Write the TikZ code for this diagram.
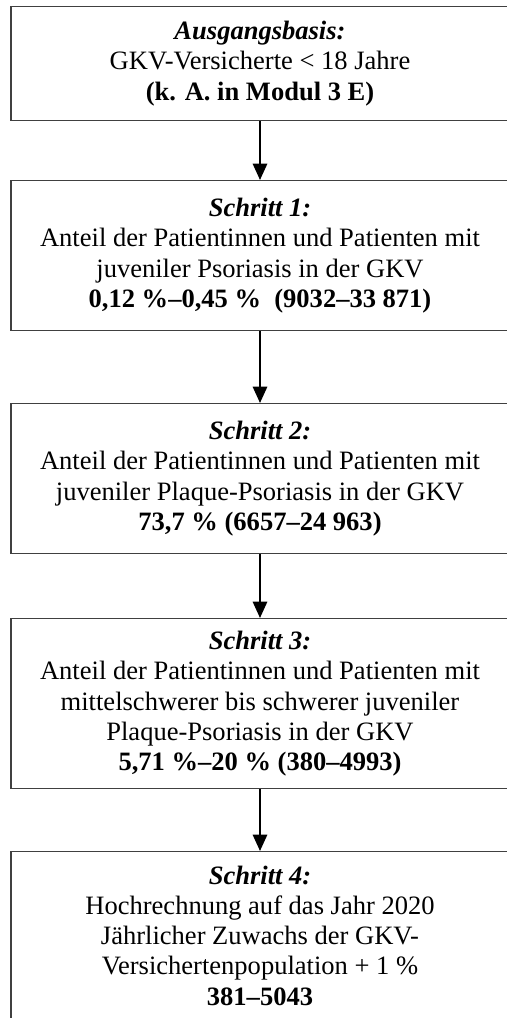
\documentclass[tikz,border=0pt]{standalone}
\usepackage{fontspec}
\setmainfont{Liberation Serif}
\usetikzlibrary{arrows.meta}

\begin{document}
\begin{tikzpicture}[x=0.49pt, y=-0.49pt]

	\tikzset{mystepbox/.style={draw=black!75, line width=0.6pt, minimum width=244pt, inner sep=0pt, anchor=north, align=center, font=\fontsize{13}{14.8}\selectfont}}
	\tikzset{myblackarrow/.style={-{Triangle[width=7pt,length=8pt]}, black, line width=1pt, shorten <=0pt}}

	% Parameters
	\def\xmid{260}   % centre line of the boxes

	\useasboundingbox (0,0) rectangle (507,1018);

	%boxes
	\node[mystepbox, minimum height=114*0.49pt] (base) at (\xmid,6)
	{\textbf{\textit{Ausgangsbasis:}}\\
	GKV-Versicherte < 18 Jahre\\
	\textbf{(k. A. in Modul 3 E)}};

	\node[mystepbox, minimum height=150*0.49pt] (schritta) at (\xmid,180)
	{\textbf{\textit{Schritt 1:}}\\
	Anteil der Patientinnen und Patienten mit\\
	juveniler Psoriasis in der GKV\\
	\textbf{0,12~\%--0,45~\%\ \ (9032--33~871)}};

	\node[mystepbox, minimum height=150*0.49pt] (schrittb) at (\xmid,403)
	{\textbf{\textit{Schritt 2:}}\\
	Anteil der Patientinnen und Patienten mit\\
	juveniler Plaque-Psoriasis in der GKV\\
	\textbf{73,7~\% (6657--24~963)}};

	\node[mystepbox, minimum height=170*0.49pt] (schrittc) at (\xmid,618)
	{\textbf{\textit{Schritt 3:}}\\
	Anteil der Patientinnen und Patienten mit\\
	mittelschwerer bis schwerer juveniler\\
	Plaque-Psoriasis in der GKV\\
	\textbf{5,71~\%--20~\% (380--4993)}};

	\node[mystepbox, minimum height=168*0.49pt] (schrittd) at (\xmid,851)
	{\textbf{\textit{Schritt 4:}}\\
	Hochrechnung auf das Jahr 2020\\
	Jährlicher Zuwachs der GKV-\\
	Versichertenpopulation + 1~\%\\
	\textbf{381--5043}};

	%arrows
	\draw[myblackarrow] (base) -- (schritta);
	\draw[myblackarrow] (schritta) -- (schrittb);
	\draw[myblackarrow] (schrittb) -- (schrittc);
	\draw[myblackarrow] (schrittc) -- (schrittd);

\end{tikzpicture}
\end{document}
